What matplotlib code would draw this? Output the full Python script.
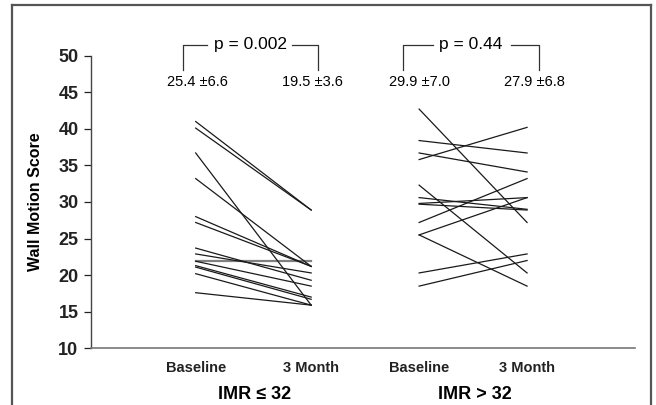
import matplotlib
matplotlib.use("Agg")
import matplotlib.pyplot as plt
from matplotlib.lines import Line2D

plt.rcParams['font.family'] = ['Liberation Sans', 'DejaVu Sans']

# wall motion score per patient
imr_low_base = [41.0, 40.1, 36.7, 33.2, 28.0, 27.2, 23.7, 22.9, 21.9, 21.9, 21.3, 21.1, 20.2, 17.6]
imr_low_3m = [28.9, 28.9, 15.9, 21.2, 21.2, 21.2, 19.3, 20.3, 21.9, 18.5, 17.0, 16.7, 15.9, 15.9]
imr_high_base = [42.7, 38.4, 36.7, 35.8, 32.3, 30.6, 29.8, 29.7, 27.2, 25.5, 25.5, 20.3, 18.5]
imr_high_3m = [27.2, 36.7, 34.1, 40.2, 20.3, 29.0, 30.6, 28.9, 33.2, 30.6, 18.5, 22.9, 22.0]

time_labels = ['Baseline', '3 Month', 'Baseline', '3 Month']
group_labels = ['IMR \u2264 32', 'IMR > 32']
mean_sd = ['25.4 \u00b16.6', '19.5 \u00b13.6', '29.9 \u00b17.0', '27.9 \u00b16.8']
p_values = ['p = 0.002', 'p = 0.44']

xpos = [0.97, 2.04, 3.04, 4.04]

fig = plt.figure(figsize=(6.56, 4.05), dpi=100)
ax = fig.add_axes([0.1387, 0.14, 0.8293, 0.7225])

for b, m in zip(imr_low_base, imr_low_3m):
    if b == m:
        ax.plot(xpos[0:2], [b, m], color='#808080', lw=1.6, zorder=2)
    else:
        ax.plot(xpos[0:2], [b, m], color='#1a1a1a', lw=0.9, zorder=3)
for b, m in zip(imr_high_base, imr_high_3m):
    ax.plot(xpos[2:4], [b, m], color='#1a1a1a', lw=0.9, zorder=3)

ax.set_xlim(0, 5.04)
ax.set_ylim(10, 50)
ax.set_yticks(range(10, 51, 5))
ax.set_xticks(xpos)
ax.set_xticklabels(time_labels, fontsize=10.5, fontweight='bold')
for lab in ax.get_yticklabels():
    lab.set_fontsize(13)
    lab.set_fontweight('bold')
ax.tick_params(axis='y', direction='out', length=5, width=0.9, pad=4, colors='#222222')
ax.tick_params(axis='x', length=0, pad=9, colors='#222222')
ax.spines['top'].set_visible(False)
ax.spines['right'].set_visible(False)
ax.spines['left'].set_color('#444444')
ax.spines['bottom'].set_color('#777777')
ax.spines['left'].set_linewidth(1.0)
ax.spines['bottom'].set_linewidth(1.2)
ax.set_ylabel('Wall Motion Score', fontsize=11.5, fontweight='bold')
ax.yaxis.set_label_coords(-0.088, 0.5)

# group labels below the axis
ax.text((xpos[0] + xpos[1]) / 2 + 0.01, 3.7, group_labels[0], ha='center', va='center',
        fontsize=13, fontweight='bold', clip_on=False)
ax.text((xpos[2] + xpos[3]) / 2 + 0.02, 3.7, group_labels[1], ha='center', va='center',
        fontsize=13, fontweight='bold', clip_on=False)

# mean +/- sd above each column
val_x = [0.99, 2.05, 3.04, 4.11]
for x, s in zip(val_x, mean_sd):
    ax.text(x, 46.4, s, ha='center', va='center', fontsize=10.5, clip_on=False)

# brackets with p values
brackets = [(0.852, 2.102, 1.074, 1.861, 1.475), (2.889, 4.148, 3.167, 3.889, 3.52)]
for (x0, x1, g0, g1, xt), p in zip(brackets, p_values):
    for xs, ys in [([x0, x0, g0], [48.05, 51.45, 51.45]), ([g1, x1, x1], [51.45, 51.45, 48.05])]:
        ax.add_line(Line2D(xs, ys, color='#333333', lw=0.9, clip_on=False))
    ax.text(xt, 51.5, p, ha='center', va='center', fontsize=12.5, clip_on=False)

# figure border
for xs, ys in [([0.018, 0.018], [0.0, 0.987]), ([0.018, 0.992], [0.987, 0.987]),
               ([0.992, 0.992], [0.987, 0.0])]:
    fig.add_artist(Line2D(xs, ys, color='#555555', lw=1.6, transform=fig.transFigure))

fig.savefig('out.png', dpi=100)
